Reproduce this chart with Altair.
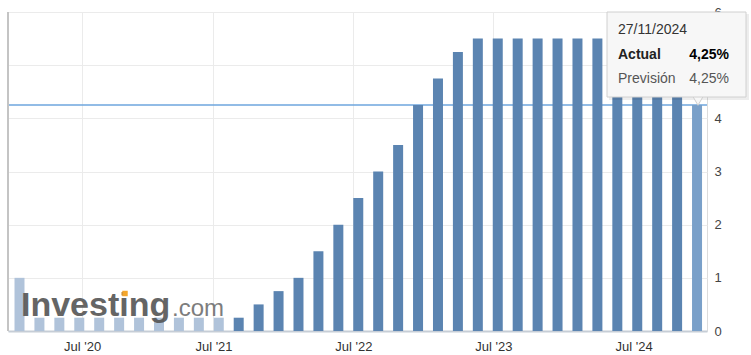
import altair as alt
import pandas as pd
import numpy as np

# RBNZ official cash rate decisions (meeting dates)
dates = [
    "12/02/2020", "16/03/2020", "13/05/2020", "24/06/2020", "12/08/2020", "23/09/2020", "11/11/2020",
    "24/02/2021", "14/04/2021", "26/05/2021", "14/07/2021", "18/08/2021", "06/10/2021", "24/11/2021",
    "23/02/2022", "13/04/2022", "25/05/2022", "13/07/2022", "17/08/2022", "05/10/2022", "23/11/2022",
    "22/02/2023", "05/04/2023", "24/05/2023", "12/07/2023", "16/08/2023", "04/10/2023", "29/11/2023",
    "28/02/2024", "10/04/2024", "22/05/2024", "10/07/2024", "14/08/2024", "09/10/2024", "27/11/2024",
]
rates = [
    1.0, 0.25, 0.25, 0.25, 0.25, 0.25, 0.25,
    0.25, 0.25, 0.25, 0.25, 0.25, 0.5, 0.75,
    1.0, 1.5, 2.0, 2.5, 3.0, 3.5, 4.25,
    4.75, 5.25, 5.5, 5.5, 5.5, 5.5, 5.5,
    5.5, 5.5, 5.5, 5.5, 5.25, 4.75, 4.25,
]
forecast = 4.25
tick_dates = ["01/07/2020", "01/07/2021", "01/07/2022", "01/07/2023", "01/07/2024"]
tick_labels = ["Jul '20", "Jul '21", "Jul '22", "Jul '23", "Jul '24"]
y_ticks = [0, 1, 2, 3, 4, 5, 6]
y_hidden = 5  # label covered by the tooltip in the reference

FONT = "Liberation Sans"
DARK = "#5b84b1"
LIGHT = "#b0c3da"   # bars seen through the watermark
HOVER = "#7aa0c9"
WATERMARK_LAST = 10  # last bar index covered by the watermark

n = len(dates)
idx = np.arange(n)
dt = pd.to_datetime(dates, format="%d/%m/%Y")
ords = np.asarray(dt.to_julian_date())
tick_pos = np.interp(np.asarray(pd.to_datetime(tick_dates, format="%d/%m/%Y").to_julian_date()), ords, idx)
tick_pos = [round(float(v), 4) for v in tick_pos]

# label expression: pick label by nearest tick
expr = f'"{tick_labels[-1]}"'
for k in range(len(tick_pos) - 2, -1, -1):
    mid = (tick_pos[k] + tick_pos[k + 1]) / 2
    expr = f'datum.value < {mid:.4f} ? "{tick_labels[k]}" : ({expr})'

df = pd.DataFrame({"i": idx, "rate": rates, "date": dates})
last = df.tail(1)

fmt = lambda v: f"{v:.2f}".replace(".", ",") + "%"

xscale = alt.Scale(domain=[-0.577, 34.5], nice=False, zero=False, padding=0)
yscale = alt.Scale(domain=[0, 6], nice=False, padding=0)

x_axis = alt.Axis(values=tick_pos, labelExpr=expr, grid=True, gridColor="#ebebeb",
                  domain=True, domainColor="#c6cdd6", domainWidth=2, ticks=False,
                  labelPadding=19, labelBaseline="alphabetic", labelFontSize=13,
                  labelColor="#333", labelFont=FONT,
                  labelFlush=False, labelOverlap=False, title=None)
y_axis = alt.Axis(orient="right", values=y_ticks, grid=True, gridColor="#ebebeb",
                  domain=False, ticks=False, labelPadding=7, labelFontSize=13,
                  labelExpr=f"datum.value == {y_hidden} ? '' : datum.label",
                  labelColor="#444", labelFont=FONT, title=None)

rule = alt.Chart(last).mark_rule(color="#6ea6de", strokeWidth=1.5).encode(
    y=alt.Y("rate:Q", scale=yscale, axis=y_axis)
)

bar_color = (
    alt.when(f"datum.i == {n - 1}").then(alt.value(HOVER))
    .when(f"datum.i <= {WATERMARK_LAST}").then(alt.value(LIGHT))
    .otherwise(alt.value(DARK))
)

bars = alt.Chart(df).mark_bar(size=10).encode(
    x=alt.X("i:Q", scale=xscale, axis=x_axis),
    y=alt.Y("rate:Q", scale=yscale, axis=y_axis),
    color=bar_color,
)

left_border = alt.Chart(last).mark_rule(color="#c4c4c4", strokeWidth=2).encode(
    x=alt.value(0), y=alt.value(0), y2=alt.value(319)
)

wm1 = alt.Chart(pd.DataFrame({"t": ["Investing"]})).mark_text(
    font=FONT, fontSize=34, fontWeight="bold", color="#555555", align="left",
    baseline="alphabetic", opacity=0.9
).encode(x=alt.value(13), y=alt.value(304), text="t:N")
wm2 = alt.Chart(pd.DataFrame({"t": [".com"]})).mark_text(
    font=FONT, fontSize=24, color="#707070", align="left", baseline="alphabetic", opacity=0.9
).encode(x=alt.value(164), y=alt.value(304), text="t:N")
wm_dot = alt.Chart(pd.DataFrame({"t": [1]})).mark_point(
    shape="square", filled=True, size=30, color="#f4a62a", opacity=1
).encode(x=alt.value(117), y=alt.value(281.5))

# tooltip
shadow = alt.Chart(last).mark_rect(color="#000000", opacity=0.07).encode(
    x=alt.value(601), x2=alt.value(741), y=alt.value(2), y2=alt.value(88)
)
pointer = alt.Chart(last).mark_point(
    shape="triangle-down", filled=True, size=150, fill="#f7f7f7", stroke="#cfcfcf", strokeWidth=1, opacity=1
).encode(x=alt.value(690), y=alt.value(88))
box = alt.Chart(last).mark_rect(fill="#f7f7f7", stroke="#d0d0d0", strokeWidth=1).encode(
    x=alt.value(599), x2=alt.value(738), y=alt.value(0), y2=alt.value(85)
)
t_date = alt.Chart(last).mark_text(font=FONT, fontSize=14, color="#333", align="left").encode(
    x=alt.value(610), y=alt.value(18), text="date:N"
)
t_act = alt.Chart(pd.DataFrame({"t": ["Actual"]})).mark_text(
    font=FONT, fontSize=14, fontWeight="bold", color="#222", align="left"
).encode(x=alt.value(610), y=alt.value(42.5), text="t:N")
t_actv = alt.Chart(pd.DataFrame({"t": [fmt(rates[-1])]})).mark_text(
    font=FONT, fontSize=14, fontWeight="bold", color="#000", align="right"
).encode(x=alt.value(721), y=alt.value(42.5), text="t:N")
t_prev = alt.Chart(pd.DataFrame({"t": ["Previsión"]})).mark_text(
    font=FONT, fontSize=14, color="#555", align="left"
).encode(x=alt.value(610), y=alt.value(66.5), text="t:N")
t_prevv = alt.Chart(pd.DataFrame({"t": [fmt(forecast)]})).mark_text(
    font=FONT, fontSize=14, color="#555", align="right"
).encode(x=alt.value(721), y=alt.value(66.5), text="t:N")

chart = alt.layer(
    rule, bars, left_border, wm1, wm2, wm_dot, shadow, pointer, box,
    t_date, t_act, t_actv, t_prev, t_prevv
).properties(
    width=699, height=319,
    padding={"left": 8, "top": 12, "right": 44, "bottom": 24},
    autosize=alt.AutoSizeParams(type="none"),
    background="white",
).configure_view(stroke="#dcdcdc", strokeWidth=1)

chart.save("out.html", embed_options={"renderer": "svg", "actions": False})
